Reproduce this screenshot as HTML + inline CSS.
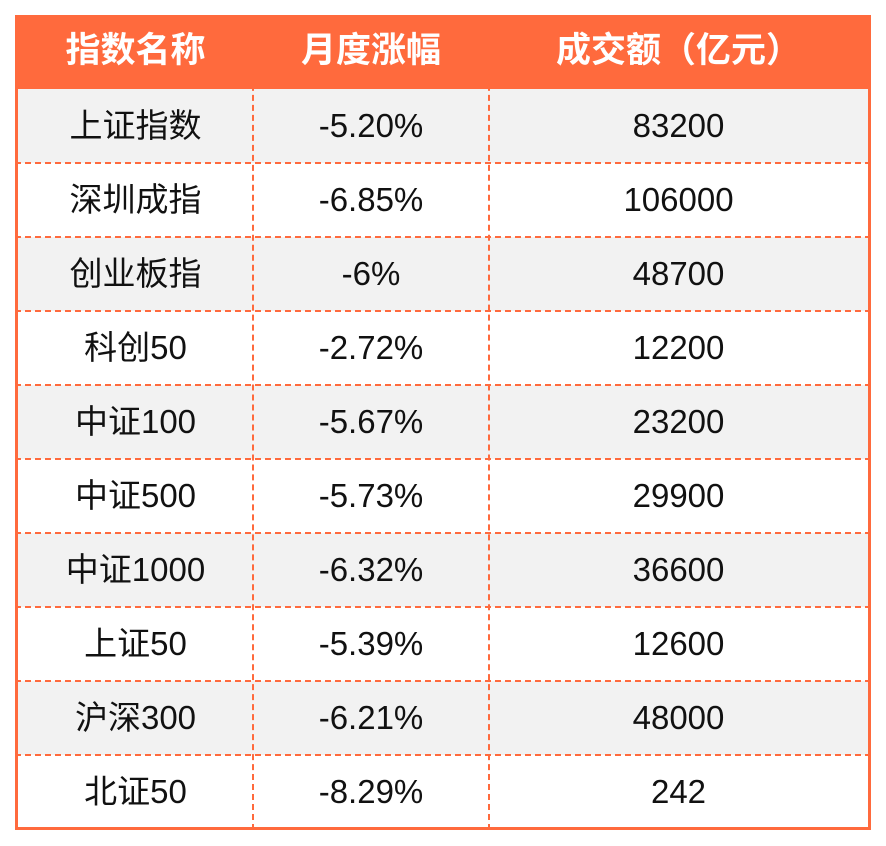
<!DOCTYPE html>
<html><head><meta charset="utf-8">
<style>
html,body{margin:0;padding:0;background:#fff;width:886px;height:846px;overflow:hidden}
#t{position:absolute;left:15px;top:15px;width:856px;height:815px;overflow:hidden;font-family:"Liberation Sans","Noto Sans CJK SC",sans-serif}
#frame{position:absolute;left:0;top:0;width:856px;height:815px;box-sizing:border-box;border:3px solid #FF6A3D;pointer-events:none;z-index:5}
.row{position:absolute;left:3px;width:850px;height:74px}
.c{position:absolute;top:0;height:74px;line-height:74px;text-align:center;font-size:33px;color:#111}
.c1{left:0;width:235px}.c2{left:235px;width:236px}.c3{left:471px;width:379px}
.hd{background:#FF6A3D;left:0;width:856px;top:0;height:74px}
.hd .c{color:#fff;font-weight:bold;font-size:35px;height:74px;line-height:72px}
.hd .c1{left:3px}.hd .c2{left:238px}.hd .c3{left:474px}
.vl{position:absolute;top:0;bottom:0;border-left:2px dashed #FF6A3D;z-index:3}
.hl{position:absolute;left:0;right:0;border-top:2px dashed #FF6A3D;z-index:3}
</style></head><body>
<div id="t">
<div class="row hd">
<div class="c c1">指数名称</div>
<div class="c c2">月度涨幅</div>
<div class="c c3">成交额（亿元）</div>
</div>
<div class="vl" style="left:237px"></div>
<div class="vl" style="left:473px"></div>
<div id="frame"></div>
</div>
<script>
const names=["上证指数","深圳成指","创业板指","科创50","中证100","中证500","中证1000","上证50","沪深300","北证50"];
const changes=["-5.20%","-6.85%","-6%","-2.72%","-5.67%","-5.73%","-6.32%","-5.39%","-6.21%","-8.29%"];
const volumes=["83200","106000","48700","12200","23200","29900","36600","12600","48000","242"];
const t=document.getElementById('t');
for(let i=0;i<names.length;i++){
 const r=document.createElement('div');
 r.className='row';
 r.style.top=(74+i*74)+'px';
 r.style.background=i%2===0?'#F2F2F2':'#FFFFFF';
 
 
 [[names[i],'c1','cell-name'],[changes[i],'c2','cell-change'],[volumes[i],'c3','cell-volume']].forEach(([txt,cls,nm])=>{
  const c=document.createElement('div');
  c.className='c '+cls;c.textContent=txt;
  
  
  r.appendChild(c);
 });
 t.insertBefore(r,t.querySelector('.vl'));
 if(i>0){
  const h=document.createElement('div');
  h.className='hl';h.style.top=(73+i*74)+'px';
  
  
  t.appendChild(h);
 }
}
</script>
</body></html>
